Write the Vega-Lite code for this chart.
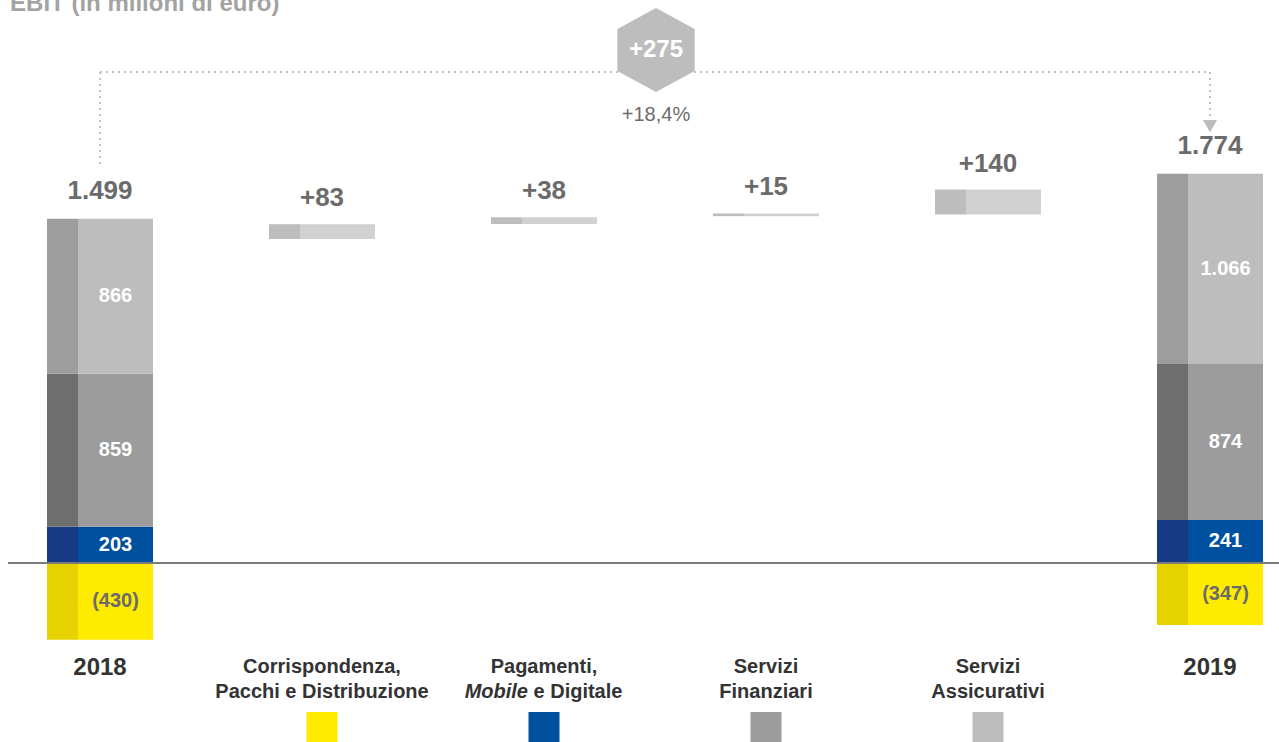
{
  "$schema": "https://vega.github.io/schema/vega-lite/v6.json",
  "width": 1279,
  "height": 742,
  "padding": 0,
  "autosize": {"type": "none"},
  "background": "white",
  "config": {
    "view": {"stroke": null},
    "font": "Liberation Sans",
    "text": {"font": "Liberation Sans"},
    "scale": {"continuousPadding": 0},
    "locale": {"number": {"decimal": ",", "thousands": ".", "grouping": [3], "currency": ["€", ""]}}
  },
  "datasets": {
    "segments": [
      {"col": 0, "year": "2018", "cat": "CPD", "order": 1, "value": -430, "label": "(430)"},
      {"col": 0, "year": "2018", "cat": "PMD", "order": 2, "value": 203, "label": "203"},
      {"col": 0, "year": "2018", "cat": "SF", "order": 3, "value": 859, "label": "859"},
      {"col": 0, "year": "2018", "cat": "SA", "order": 4, "value": 866, "label": "866"},
      {"col": 5, "year": "2019", "cat": "CPD", "order": 1, "value": -347, "label": "(347)"},
      {"col": 5, "year": "2019", "cat": "PMD", "order": 2, "value": 241, "label": "241"},
      {"col": 5, "year": "2019", "cat": "SF", "order": 3, "value": 874, "label": "874"},
      {"col": 5, "year": "2019", "cat": "SA", "order": 4, "value": 1066, "label": "1.066"}
    ],
    "totals": [
      {"col": 0, "year": "2018", "total": 1499},
      {"col": 5, "year": "2019", "total": 1774}
    ],
    "deltas": [
      {"col": 1, "cat": "CPD", "delta": 83, "start": 1815, "end": 1898},
      {"col": 2, "cat": "PMD", "delta": 38, "start": 1899, "end": 1937},
      {"col": 3, "cat": "SF", "delta": 15, "start": 1943, "end": 1958},
      {"col": 4, "cat": "SA", "delta": 140, "start": 1952, "end": 2092}
    ],
    "cats": [
      {"col": 1, "cat": "CPD", "l1": "Corrispondenza,", "l2": "Pacchi e Distribuzione"},
      {"col": 2, "cat": "PMD", "l1": "Pagamenti,", "l2": ""},
      {"col": 3, "cat": "SF", "l1": "Servizi", "l2": "Finanziari"},
      {"col": 4, "cat": "SA", "l1": "Servizi", "l2": "Assicurativi"}
    ],
    "years": [
      {"col": 0, "label": "2018"},
      {"col": 5, "label": "2019"}
    ],
    "summary": [
      {"from": 0, "to": 5, "change": 275, "pct": "+18,4%"}
    ]
  },
  "layer": [
    {
      "data": {"name": "summary"},
      "mark": {"type": "rule", "color": "#c2c2c2", "strokeWidth": 2, "strokeDash": [2, 4]},
      "encoding": {
        "x": {"field": "from", "type": "quantitative", "scale": {"domain": [-0.4505, 5.3108], "nice": false, "zero": false, "padding": 0}, "axis": null},
        "x2": {"field": "to"},
        "y": {"datum": 2751, "type": "quantitative", "scale": {"domain": [-1003, 3154], "nice": false, "zero": false, "padding": 0}, "axis": null}
      }
    },
    {
      "data": {"name": "summary"},
      "mark": {"type": "rule", "color": "#c2c2c2", "strokeWidth": 2, "strokeDash": [2, 4]},
      "encoding": {
        "x": {"field": "from", "type": "quantitative", "scale": {"domain": [-0.4505, 5.3108], "nice": false, "zero": false, "padding": 0}, "axis": null},
        "y": {"datum": 2751, "type": "quantitative", "scale": {"domain": [-1003, 3154], "nice": false, "zero": false, "padding": 0}, "axis": null},
        "y2": {"datum": 2213}
      }
    },
    {
      "data": {"name": "summary"},
      "mark": {"type": "rule", "color": "#c2c2c2", "strokeWidth": 2, "strokeDash": [2, 4]},
      "encoding": {
        "x": {"field": "to", "type": "quantitative", "scale": {"domain": [-0.4505, 5.3108], "nice": false, "zero": false, "padding": 0}, "axis": null},
        "y": {"datum": 2751, "type": "quantitative", "scale": {"domain": [-1003, 3154], "nice": false, "zero": false, "padding": 0}, "axis": null},
        "y2": {"datum": 2480}
      }
    },
    {
      "data": {"name": "summary"},
      "mark": {"type": "point", "shape": "triangle-down", "filled": true, "color": "#bdbdbd", "opacity": 1, "size": 200},
      "encoding": {
        "x": {"field": "to", "type": "quantitative", "scale": {"domain": [-0.4505, 5.3108], "nice": false, "zero": false, "padding": 0}, "axis": null},
        "y": {"datum": 2448, "type": "quantitative", "scale": {"domain": [-1003, 3154], "nice": false, "zero": false, "padding": 0}, "axis": null}
      }
    },
    {
      "data": {"name": "summary"},
      "mark": {"type": "point", "shape": "M0,-1L0.92,-0.5L0.92,0.5L0,1L-0.92,0.5L-0.92,-0.5Z", "filled": true, "color": "#bdbdbd", "opacity": 1, "size": 7056, "strokeWidth": 0},
      "encoding": {
        "x": {"datum": 2.5045, "type": "quantitative", "scale": {"domain": [-0.4505, 5.3108], "nice": false, "zero": false, "padding": 0}, "axis": null},
        "y": {"datum": 2874, "type": "quantitative", "scale": {"domain": [-1003, 3154], "nice": false, "zero": false, "padding": 0}, "axis": null}
      }
    },
    {
      "data": {"name": "summary"},
      "mark": {"type": "text", "fontSize": 24, "fontWeight": "bold", "color": "white", "align": "center", "baseline": "middle"},
      "encoding": {
        "x": {"datum": 2.5045, "type": "quantitative", "scale": {"domain": [-0.4505, 5.3108], "nice": false, "zero": false, "padding": 0}, "axis": null},
        "y": {"datum": 2874, "type": "quantitative", "scale": {"domain": [-1003, 3154], "nice": false, "zero": false, "padding": 0}, "axis": null},
        "text": {"field": "change", "type": "quantitative", "format": "+d"}
      }
    },
    {
      "data": {"name": "summary"},
      "mark": {"type": "text", "fontSize": 20, "color": "#6b6b6b", "align": "center", "baseline": "middle"},
      "encoding": {
        "x": {"datum": 2.5045, "type": "quantitative", "scale": {"domain": [-0.4505, 5.3108], "nice": false, "zero": false, "padding": 0}, "axis": null},
        "y": {"datum": 2510, "type": "quantitative", "scale": {"domain": [-1003, 3154], "nice": false, "zero": false, "padding": 0}, "axis": null},
        "text": {"field": "pct", "type": "nominal"}
      }
    },
    {
      "data": {"name": "segments"},
      "transform": [{"stack": "value", "groupby": ["col"], "sort": [{"field": "order", "order": "ascending"}], "as": ["v0", "v1"]}],
      "mark": {"type": "bar", "width": 31, "xOffset": -37.5},
      "encoding": {
        "x": {"field": "col", "type": "quantitative", "scale": {"domain": [-0.4505, 5.3108], "nice": false, "zero": false, "padding": 0}, "axis": null},
        "y": {"field": "v0", "type": "quantitative", "scale": {"domain": [-1003, 3154], "nice": false, "zero": false, "padding": 0}, "axis": null},
        "y2": {"field": "v1"},
        "color": {"field": "cat", "type": "nominal", "scale": {"domain": ["CPD", "PMD", "SF", "SA"], "range": ["#e6d200", "#173a84", "#6e6e6e", "#9d9d9d"]}, "legend": null}
      }
    },
    {
      "data": {"name": "segments"},
      "transform": [{"stack": "value", "groupby": ["col"], "sort": [{"field": "order", "order": "ascending"}], "as": ["v0", "v1"]}],
      "mark": {"type": "bar", "width": 75, "xOffset": 15.5},
      "encoding": {
        "x": {"field": "col", "type": "quantitative", "scale": {"domain": [-0.4505, 5.3108], "nice": false, "zero": false, "padding": 0}, "axis": null},
        "y": {"field": "v0", "type": "quantitative", "scale": {"domain": [-1003, 3154], "nice": false, "zero": false, "padding": 0}, "axis": null},
        "y2": {"field": "v1"},
        "color": {"field": "cat", "type": "nominal", "scale": {"domain": ["CPD", "PMD", "SF", "SA"], "range": ["#ffeb00", "#0050a0", "#9c9c9c", "#bdbdbd"]}, "legend": null}
      }
    },
    {
      "data": {"name": "segments"},
      "transform": [
        {"stack": "value", "groupby": ["col"], "sort": [{"field": "order", "order": "ascending"}], "as": ["v0", "v1"]},
        {"calculate": "(datum.v0 + datum.v1) / 2", "as": "mid"}
      ],
      "mark": {"type": "text", "fontSize": 20, "fontWeight": "bold", "align": "center", "baseline": "middle", "dx": 15.5},
      "encoding": {
        "x": {"field": "col", "type": "quantitative", "scale": {"domain": [-0.4505, 5.3108], "nice": false, "zero": false, "padding": 0}, "axis": null},
        "y": {"field": "mid", "type": "quantitative", "scale": {"domain": [-1003, 3154], "nice": false, "zero": false, "padding": 0}, "axis": null},
        "text": {"field": "label", "type": "nominal"},
        "color": {"condition": {"test": "datum.value < 0", "value": "#6b6b6b"}, "value": "white"}
      }
    },
    {
      "data": {"name": "segments"},
      "transform": [
        {"stack": "value", "groupby": ["col"], "sort": [{"field": "order", "order": "ascending"}], "as": ["v0", "v1"]},
        {"filter": "datum.order == 4"},
        {"lookup": "col", "from": {"data": {"name": "totals"}, "key": "col", "fields": ["total"]}}
      ],
      "mark": {"type": "text", "fontSize": 26, "fontWeight": "bold", "color": "#6b6b6b", "align": "center", "baseline": "middle", "dy": -28},
      "encoding": {
        "x": {"field": "col", "type": "quantitative", "scale": {"domain": [-0.4505, 5.3108], "nice": false, "zero": false, "padding": 0}, "axis": null},
        "y": {"field": "v1", "type": "quantitative", "scale": {"domain": [-1003, 3154], "nice": false, "zero": false, "padding": 0}, "axis": null},
        "text": {"field": "total", "type": "quantitative", "format": ",d"}
      }
    },
    {
      "data": {"name": "deltas"},
      "mark": {"type": "bar", "width": 31, "xOffset": -37.5, "color": "#bdbdbd"},
      "encoding": {
        "x": {"field": "col", "type": "quantitative", "scale": {"domain": [-0.4505, 5.3108], "nice": false, "zero": false, "padding": 0}, "axis": null},
        "y": {"field": "start", "type": "quantitative", "scale": {"domain": [-1003, 3154], "nice": false, "zero": false, "padding": 0}, "axis": null},
        "y2": {"field": "end"}
      }
    },
    {
      "data": {"name": "deltas"},
      "mark": {"type": "bar", "width": 75, "xOffset": 15.5, "color": "#d1d1d1"},
      "encoding": {
        "x": {"field": "col", "type": "quantitative", "scale": {"domain": [-0.4505, 5.3108], "nice": false, "zero": false, "padding": 0}, "axis": null},
        "y": {"field": "start", "type": "quantitative", "scale": {"domain": [-1003, 3154], "nice": false, "zero": false, "padding": 0}, "axis": null},
        "y2": {"field": "end"}
      }
    },
    {
      "data": {"name": "deltas"},
      "mark": {"type": "text", "fontSize": 26, "fontWeight": "bold", "color": "#6b6b6b", "align": "center", "baseline": "middle", "dy": -26},
      "encoding": {
        "x": {"field": "col", "type": "quantitative", "scale": {"domain": [-0.4505, 5.3108], "nice": false, "zero": false, "padding": 0}, "axis": null},
        "y": {"field": "end", "type": "quantitative", "scale": {"domain": [-1003, 3154], "nice": false, "zero": false, "padding": 0}, "axis": null},
        "text": {"field": "delta", "type": "quantitative", "format": "+d"}
      }
    },
    {
      "data": {"values": [{}]},
      "mark": {"type": "rule", "color": "#7b7b7b", "strokeWidth": 2},
      "encoding": {
        "x": {"datum": -0.414, "type": "quantitative", "scale": {"domain": [-0.4505, 5.3108], "nice": false, "zero": false, "padding": 0}, "axis": null},
        "x2": {"datum": 5.3108},
        "y": {"datum": 0, "type": "quantitative", "scale": {"domain": [-1003, 3154], "nice": false, "zero": false, "padding": 0}, "axis": null}
      }
    },
    {
      "data": {"name": "years"},
      "mark": {"type": "text", "fontSize": 24, "fontWeight": "bold", "color": "#333333", "align": "center", "baseline": "middle"},
      "encoding": {
        "x": {"field": "col", "type": "quantitative", "scale": {"domain": [-0.4505, 5.3108], "nice": false, "zero": false, "padding": 0}, "axis": null},
        "y": {"datum": -588, "type": "quantitative", "scale": {"domain": [-1003, 3154], "nice": false, "zero": false, "padding": 0}, "axis": null},
        "text": {"field": "label", "type": "nominal"}
      }
    },
    {
      "data": {"name": "cats"},
      "mark": {"type": "text", "fontSize": 20, "fontWeight": "bold", "color": "#333333", "align": "center", "baseline": "middle"},
      "encoding": {
        "x": {"field": "col", "type": "quantitative", "scale": {"domain": [-0.4505, 5.3108], "nice": false, "zero": false, "padding": 0}, "axis": null},
        "y": {"datum": -583, "type": "quantitative", "scale": {"domain": [-1003, 3154], "nice": false, "zero": false, "padding": 0}, "axis": null},
        "text": {"field": "l1", "type": "nominal"}
      }
    },
    {
      "data": {"name": "cats"},
      "mark": {"type": "text", "fontSize": 20, "fontWeight": "bold", "color": "#333333", "align": "center", "baseline": "middle"},
      "encoding": {
        "x": {"field": "col", "type": "quantitative", "scale": {"domain": [-0.4505, 5.3108], "nice": false, "zero": false, "padding": 0}, "axis": null},
        "y": {"datum": -723, "type": "quantitative", "scale": {"domain": [-1003, 3154], "nice": false, "zero": false, "padding": 0}, "axis": null},
        "text": {"field": "l2", "type": "nominal"}
      }
    },
    {
      "data": {"name": "cats"},
      "transform": [{"filter": "datum.cat == 'PMD'"}],
      "mark": {"type": "text", "fontSize": 20, "fontWeight": "bold", "fontStyle": "italic", "color": "#333333", "align": "right", "baseline": "middle", "dx": -16},
      "encoding": {
        "x": {"field": "col", "type": "quantitative", "scale": {"domain": [-0.4505, 5.3108], "nice": false, "zero": false, "padding": 0}, "axis": null},
        "y": {"datum": -723, "type": "quantitative", "scale": {"domain": [-1003, 3154], "nice": false, "zero": false, "padding": 0}, "axis": null},
        "text": {"value": "Mobile"}
      }
    },
    {
      "data": {"name": "cats"},
      "transform": [{"filter": "datum.cat == 'PMD'"}],
      "mark": {"type": "text", "fontSize": 20, "fontWeight": "bold", "color": "#333333", "align": "left", "baseline": "middle", "dx": -10.5},
      "encoding": {
        "x": {"field": "col", "type": "quantitative", "scale": {"domain": [-0.4505, 5.3108], "nice": false, "zero": false, "padding": 0}, "axis": null},
        "y": {"datum": -723, "type": "quantitative", "scale": {"domain": [-1003, 3154], "nice": false, "zero": false, "padding": 0}, "axis": null},
        "text": {"value": "e Digitale"}
      }
    },
    {
      "data": {"name": "cats"},
      "mark": {"type": "bar", "width": 31},
      "encoding": {
        "x": {"field": "col", "type": "quantitative", "scale": {"domain": [-0.4505, 5.3108], "nice": false, "zero": false, "padding": 0}, "axis": null},
        "y": {"datum": -835, "type": "quantitative", "scale": {"domain": [-1003, 3154], "nice": false, "zero": false, "padding": 0}, "axis": null},
        "y2": {"datum": -1003},
        "color": {"field": "cat", "type": "nominal", "scale": {"domain": ["CPD", "PMD", "SF", "SA"], "range": ["#ffeb00", "#0050a0", "#9c9c9c", "#bdbdbd"]}, "legend": null}
      }
    },
    {
      "data": {"values": [{"title": "EBIT (in milioni di euro)"}]},
      "mark": {"type": "text", "fontSize": 24, "fontWeight": "bold", "color": "#a3a3a3", "align": "left", "baseline": "alphabetic"},
      "encoding": {
        "x": {"datum": -0.405, "type": "quantitative", "scale": {"domain": [-0.4505, 5.3108], "nice": false, "zero": false, "padding": 0}, "axis": null},
        "y": {"datum": 3093, "type": "quantitative", "scale": {"domain": [-1003, 3154], "nice": false, "zero": false, "padding": 0}, "axis": null},
        "text": {"field": "title", "type": "nominal"}
      }
    }
  ],
  "resolve": {"scale": {"color": "independent"}}
}
